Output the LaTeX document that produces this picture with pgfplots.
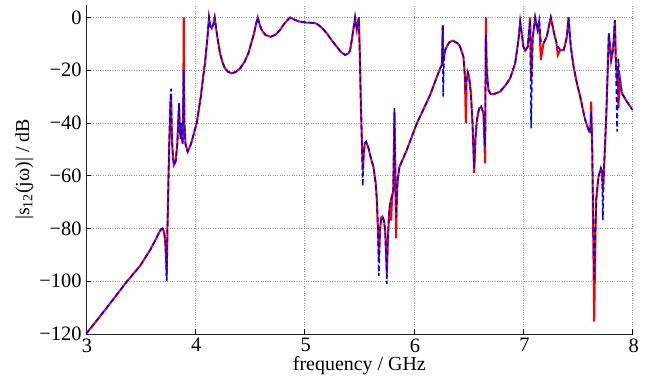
\documentclass[border=0pt]{standalone}
\usepackage{fontspec}
\setmainfont{Liberation Serif}
\usepackage{pgfplots}
\pgfplotsset{compat=1.18}
\begin{document}
\begin{tikzpicture}
\begin{axis}[
  scale only axis,
  width=546.7bp, height=329bp,
  xmin=3, xmax=8, ymin=-120, ymax=4.74,
  xtick={3,4,5,6,7,8},
  xticklabels={3,4,5,6,7,8},
  ytick={-120,-100,-80,-60,-40,-20,0},
  yticklabels={−120,−100,−80,−60,−40,−20,0},
  axis x line*=bottom, axis y line*=left,
  axis line style={-, line width=0.9pt, black!85},
  tick align=inside, major tick length=5bp,
  tick style={black, line width=0.9pt},
  xmajorgrids, ymajorgrids,
  grid style={dotted, gray!80, line width=0.7pt},
  tick label style={font=\fontsize{20.5}{22}\selectfont},
  label style={font=\fontsize{20}{22}\selectfont},
  xticklabel style={yshift=-1bp, xshift=1bp},
  yticklabel style={xshift=-1bp},
  xlabel={frequency / GHz},
  ylabel={|s\textsubscript{12}(jω)| / dB},
  xlabel style={yshift=3bp},
  ylabel style={yshift=-1bp},
  clip=true,
]
\addplot[red, line width=2pt] coordinates {
(3.000,-120.0) (3.100,-114.8) (3.200,-109.5) (3.300,-104.1) (3.372,-100.2)
(3.494,-94.2) (3.586,-88.2) (3.640,-84.0) (3.680,-80.6) (3.700,-80.0)
(3.715,-81.5) (3.725,-85) (3.733,-92) (3.738,-98) (3.745,-80) (3.760,-50)
(3.772,-32) (3.778,-29) (3.785,-45) (3.795,-53) (3.805,-55.9) (3.820,-54.5)
(3.835,-48) (3.845,-38) (3.851,-32.5) (3.858,-42) (3.866,-46) (3.872,-40)
(3.878,-45) (3.884,-48) (3.890,-30) (3.894,0) (3.900,-40) (3.910,-48)
(3.930,-50.9) (3.960,-48) (4.013,-40) (4.050,-30) (4.073,-22) (4.089,-17)
(4.110,-8) (4.125,0) (4.137,-3.3) (4.150,-4.1) (4.165,-2.5) (4.177,0) (4.190,-4) (4.200,-7) (4.226,-13.6)
(4.250,-17.2) (4.272,-19.3) (4.300,-20.6) (4.333,-21.2) (4.370,-20.6) (4.409,-19.3) (4.450,-16.8) (4.485,-13.6) (4.537,-6.0)
(4.555,-2.5) (4.571,0) (4.590,-3) (4.607,-4.7) (4.640,-6.6) (4.690,-7.3) (4.735,-6.5) (4.775,-4.7) (4.820,-2) (4.866,0) (4.910,-0.9) (4.958,-1.6)
(5.010,-1.9) (5.065,-2.0) (5.100,-2.2) (5.125,-2.8) (5.160,-4) (5.202,-6.0) (5.250,-8.8) (5.294,-11.1) (5.335,-13.2) (5.370,-14.2)
(5.400,-13.6) (5.415,-12.6) (5.431,-8.5) (5.461,0) (5.477,-4.7) (5.495,0) (5.505,-15)
(5.513,-31.3) (5.525,-50) (5.531,-58) (5.540,-52) (5.550,-47.5) (5.562,-47.1)
(5.580,-49) (5.610,-54) (5.629,-56.6) (5.650,-63) (5.660,-69.2) (5.670,-80)
(5.678,-91) (5.690,-80) (5.700,-76) (5.711,-75.5) (5.725,-77) (5.736,-80.6)
(5.745,-90) (5.751,-97) (5.760,-85) (5.772,-74.2) (5.780,-71) (5.785,-70)
(5.790,-77) (5.800,-68) (5.810,-66) (5.821,-36) (5.830,-60) (5.836,-83.7)
(5.845,-65) (5.855,-60) (5.867,-56.6) (5.900,-53.5) (5.934,-50.2) (5.980,-45.2) (6.026,-40.1) (6.090,-34.5)
(6.147,-29.4) (6.200,-23.5) (6.239,-19.3) (6.255,-18) (6.263,-3) (6.266,-17) (6.275,-15)
(6.285,-12.3) (6.320,-9.5) (6.355,-8.8) (6.400,-9.8) (6.422,-11.1)
(6.452,-14.9) (6.465,-22) (6.474,-40.1) (6.480,-24) (6.492,-20.9)
(6.505,-23) (6.520,-28.7) (6.535,-40) (6.550,-59) (6.562,-46) (6.575,-38.9)
(6.595,-34.5) (6.614,-33.8) (6.635,-36.3) (6.650,-55.3) (6.657,0)
(6.665,-20) (6.681,-27.5) (6.700,-29) (6.727,-29.1) (6.788,-28.1)
(6.840,-25.5) (6.879,-23.1) (6.925,-17.4) (6.955,-8.5) (6.971,-1.6)
(6.985,-6) (7.001,-11.1) (7.016,-12.6) (7.040,-11.1) (7.055,-4) (7.062,0)
(7.071,-24) (7.085,-8) (7.108,0) (7.130,-4.7) (7.145,-1.6) (7.160,-16.1)
(7.184,-9.8) (7.214,-7.3) (7.235,-3) (7.251,0) (7.281,-6.0) (7.300,-9)
(7.315,-14.2) (7.337,-12.3) (7.370,-12.3) (7.398,-7.3) (7.413,0)
(7.434,-11.1) (7.459,-18.6) (7.490,-25) (7.520,-30.0) (7.545,-35) (7.566,-38.9) (7.602,-43.3)
(7.612,-43.5) (7.620,-31.9) (7.630,-50) (7.648,-115.3) (7.660,-80)
(7.666,-69.2) (7.687,-60.4) (7.709,-57.2) (7.720,-58.5) (7.727,-66)
(7.735,-60) (7.758,-37.6) (7.782,-6.0) (7.803,-16.1) (7.820,-12.3)
(7.837,-1) (7.845,-15) (7.858,-25) (7.865,-20) (7.870,-34.4) (7.880,-22)
(7.901,-28.7) (7.947,-31.9) (8.000,-35.1)
};
\addplot[blue, line width=1.6pt, dash pattern=on 5pt off 3pt] coordinates {
(3.000,-120.0) (3.100,-114.8) (3.200,-109.5) (3.300,-104.1) (3.372,-100.2)
(3.494,-94.2) (3.586,-88.2) (3.640,-84.0) (3.680,-80.6) (3.700,-80.0)
(3.715,-81.5) (3.725,-85) (3.733,-92) (3.738,-100) (3.745,-80) (3.760,-50)
(3.772,-32) (3.778,-27) (3.785,-45) (3.795,-53) (3.805,-55.9) (3.820,-54.5)
(3.835,-48) (3.845,-38) (3.851,-32.5) (3.858,-42) (3.866,-46) (3.872,-40)
(3.878,-45) (3.884,-48) (3.890,-30) (3.894,-20) (3.900,-40) (3.910,-48)
(3.930,-50.9) (3.960,-48) (4.013,-40) (4.050,-30) (4.073,-22) (4.089,-17)
(4.110,-8) (4.125,0) (4.137,-3.3) (4.150,-4.1) (4.165,-2.5) (4.177,0) (4.190,-4) (4.200,-7) (4.226,-13.6)
(4.250,-17.2) (4.272,-19.3) (4.300,-20.6) (4.333,-21.2) (4.370,-20.6) (4.409,-19.3) (4.450,-16.8) (4.485,-13.6) (4.537,-6.0)
(4.555,-2.5) (4.571,0) (4.590,-3) (4.607,-4.7) (4.640,-6.6) (4.690,-7.3) (4.735,-6.5) (4.775,-4.7) (4.820,-2) (4.866,0) (4.910,-0.9) (4.958,-1.6)
(5.010,-1.9) (5.065,-2.0) (5.100,-2.2) (5.125,-2.8) (5.160,-4) (5.202,-6.0) (5.250,-8.8) (5.294,-11.1) (5.335,-13.2) (5.370,-14.2)
(5.400,-13.6) (5.415,-12.6) (5.431,-8.5) (5.461,0) (5.477,-4.7) (5.495,0) (5.505,-15)
(5.513,-31.3) (5.525,-50) (5.531,-64) (5.540,-52) (5.550,-47.5) (5.562,-47.1)
(5.580,-49) (5.610,-54) (5.629,-56.6) (5.650,-63) (5.660,-69.2) (5.670,-80)
(5.678,-98) (5.690,-80) (5.700,-76) (5.711,-75.5) (5.725,-77) (5.736,-80.6)
(5.745,-90) (5.751,-101) (5.760,-85) (5.772,-74.2) (5.780,-71) (5.785,-70)
(5.790,-69) (5.800,-68) (5.810,-66) (5.821,-34.4) (5.830,-60) (5.836,-76)
(5.845,-65) (5.855,-60) (5.867,-56.6) (5.900,-53.5) (5.934,-50.2) (5.980,-45.2) (6.026,-40.1) (6.090,-34.5)
(6.147,-29.4) (6.200,-23.5) (6.239,-19.3) (6.255,-18) (6.263,-3) (6.266,-30) (6.275,-15)
(6.285,-12.3) (6.320,-9.5) (6.355,-8.8) (6.400,-9.8) (6.422,-11.1)
(6.452,-14.9) (6.465,-22) (6.474,-28) (6.480,-24) (6.492,-20.9)
(6.505,-23) (6.520,-28.7) (6.535,-40) (6.550,-57) (6.562,-46) (6.575,-38.9)
(6.595,-34.5) (6.614,-33.8) (6.635,-36.3) (6.650,-49) (6.657,-6.6)
(6.665,-20) (6.681,-27.5) (6.700,-29) (6.727,-29.1) (6.788,-28.1)
(6.840,-25.5) (6.879,-23.1) (6.925,-17.4) (6.955,-8.5) (6.971,-1.6)
(6.985,-6) (7.001,-11.1) (7.016,-12.6) (7.040,-11.1) (7.055,-4) (7.062,-0.9)
(7.071,-42) (7.085,-8) (7.108,0) (7.130,-4.7) (7.145,-1.6) (7.160,-9)
(7.184,-9.8) (7.214,-7.3) (7.235,-3) (7.251,0) (7.281,-6.0) (7.300,-9)
(7.315,-11) (7.337,-12.3) (7.370,-12.3) (7.398,-7.3) (7.413,0)
(7.434,-11.1) (7.459,-18.6) (7.490,-25) (7.520,-30.0) (7.545,-35) (7.566,-38.9) (7.602,-43.3)
(7.612,-43.5) (7.620,-35.7) (7.630,-50) (7.648,-100) (7.660,-80)
(7.666,-69.2) (7.687,-60.4) (7.709,-57.2) (7.720,-58.5) (7.727,-76.8)
(7.735,-60) (7.758,-37.6) (7.782,-6.0) (7.803,-16.1) (7.820,-12.3)
(7.837,-1) (7.845,-15) (7.858,-43.3) (7.865,-20) (7.868,-15.6) (7.880,-22)
(7.901,-28.7) (7.947,-31.9) (8.000,-35.1)
};
\end{axis}
\path[use as bounding box] (-86bp,-44bp) rectangle (560bp,334bp);
\end{tikzpicture}
\end{document}
